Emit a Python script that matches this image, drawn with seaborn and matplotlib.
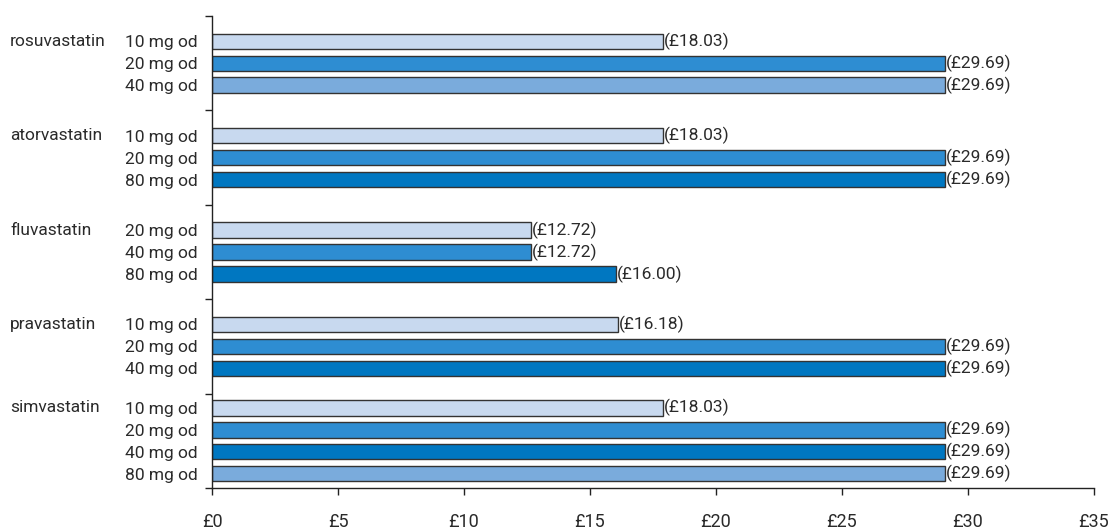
import numpy as np
import pandas as pd
import seaborn as sns
import matplotlib.pyplot as plt
from matplotlib.transforms import blended_transform_factory

# ---- data ----
groups = ["rosuvastatin", "atorvastatin", "fluvastatin", "pravastatin", "simvastatin"]
group_doses = [
    ["10 mg od", "20 mg od", "40 mg od"],
    ["10 mg od", "20 mg od", "80 mg od"],
    ["20 mg od", "40 mg od", "80 mg od"],
    ["10 mg od", "20 mg od", "40 mg od"],
    ["10 mg od", "20 mg od", "40 mg od", "80 mg od"],
]
group_bar_lengths = [
    [17.9, 29.1, 29.1],
    [17.9, 29.1, 29.1],
    [12.65, 12.65, 16.05],
    [16.1, 29.1, 29.1],
    [17.9, 29.1, 29.1, 29.1],
]
group_price_labels = [
    ["(£18.03)", "(£29.69)", "(£29.69)"],
    ["(£18.03)", "(£29.69)", "(£29.69)"],
    ["(£12.72)", "(£12.72)", "(£16.00)"],
    ["(£16.18)", "(£29.69)", "(£29.69)"],
    ["(£18.03)", "(£29.69)", "(£29.69)", "(£29.69)"],
]
group_shades = [
    ["light", "medium", "pale"],
    ["light", "medium", "dark"],
    ["light", "medium", "dark"],
    ["light", "medium", "dark"],
    ["light", "medium", "dark", "pale"],
]
x_ticks = [0, 5, 10, 15, 20, 25, 30, 35]
x_tick_labels = ["£0", "£5", "£10", "£15", "£20", "£25", "£30", "£35"]

palette = {"light": "#c8d9ef", "medium": "#2e8dd2", "dark": "#0077c1", "pale": "#7aabdc"}

# ---- build table ----
pitch = 0.233
rows = []
for g, name in enumerate(groups):
    n = len(group_doses[g])
    for i in range(n):
        rows.append({
            "group": name,
            "dose": group_doses[g][i],
            "cost": group_bar_lengths[g][i],
            "label": group_price_labels[g][i],
            "shade": group_shades[g][i],
            "ypos": g + (i - (n - 1) / 2) * pitch,
            "first": i == 0,
        })
df = pd.DataFrame(rows)

sns.set_style("white")
plt.rcParams["font.family"] = ["Roboto", "Liberation Sans", "DejaVu Sans"]
text_color = "#2a2a2a"
fs = 12.5

fig = plt.figure(figsize=(11.13, 5.31), dpi=100)
ax = fig.add_axes([212 / 1113, 43 / 531, 882 / 1113, 472 / 531])

sns.barplot(data=df, x="cost", y="ypos", hue="shade", palette=palette,
            orient="y", native_scale=True, dodge=False, width=0.70,
            saturation=1, edgecolor="#333333", linewidth=1.0, legend=False, ax=ax)

ax.set_xlim(0, 35)
ax.set_ylim(4.5, -0.5)
ax.set_xlabel("")
ax.set_ylabel("")

# x axis
ax.set_xticks(x_ticks)
ax.set_xticklabels(x_tick_labels, fontsize=fs + 0.5, color=text_color)
ax.tick_params(axis="x", which="major", direction="out", length=5, width=1,
               color="#222222", pad=13, bottom=True)

# y axis: group boundary ticks (major) and dose labels (minor)
ax.set_yticks(np.arange(-0.5, len(groups), 1.0))
ax.set_yticklabels([""] * (len(groups) + 1))
ax.tick_params(axis="y", which="major", direction="out", length=5, width=1,
               color="#222222", left=True)
ax.set_yticks(df["ypos"].values, minor=True)
ax.set_yticklabels(df["dose"].values, minor=True, fontsize=fs, color=text_color)
ax.tick_params(axis="y", which="minor", length=0, pad=10)

for side in ["top", "right"]:
    ax.spines[side].set_visible(False)
for side in ["left", "bottom"]:
    ax.spines[side].set_color("#222222")
    ax.spines[side].set_linewidth(1)

# price labels
for _, r in df.iterrows():
    ax.text(r["cost"] + 0.03, r["ypos"], r["label"], ha="left", va="center",
            fontsize=fs, color=text_color)

# group names
trans = blended_transform_factory(fig.transFigure, ax.transData)
for _, r in df[df["first"]].iterrows():
    ax.text(10 / 1113, r["ypos"], r["group"], transform=trans, ha="left",
            va="center", fontsize=fs, color=text_color)

fig.savefig("out.png", dpi=100)
